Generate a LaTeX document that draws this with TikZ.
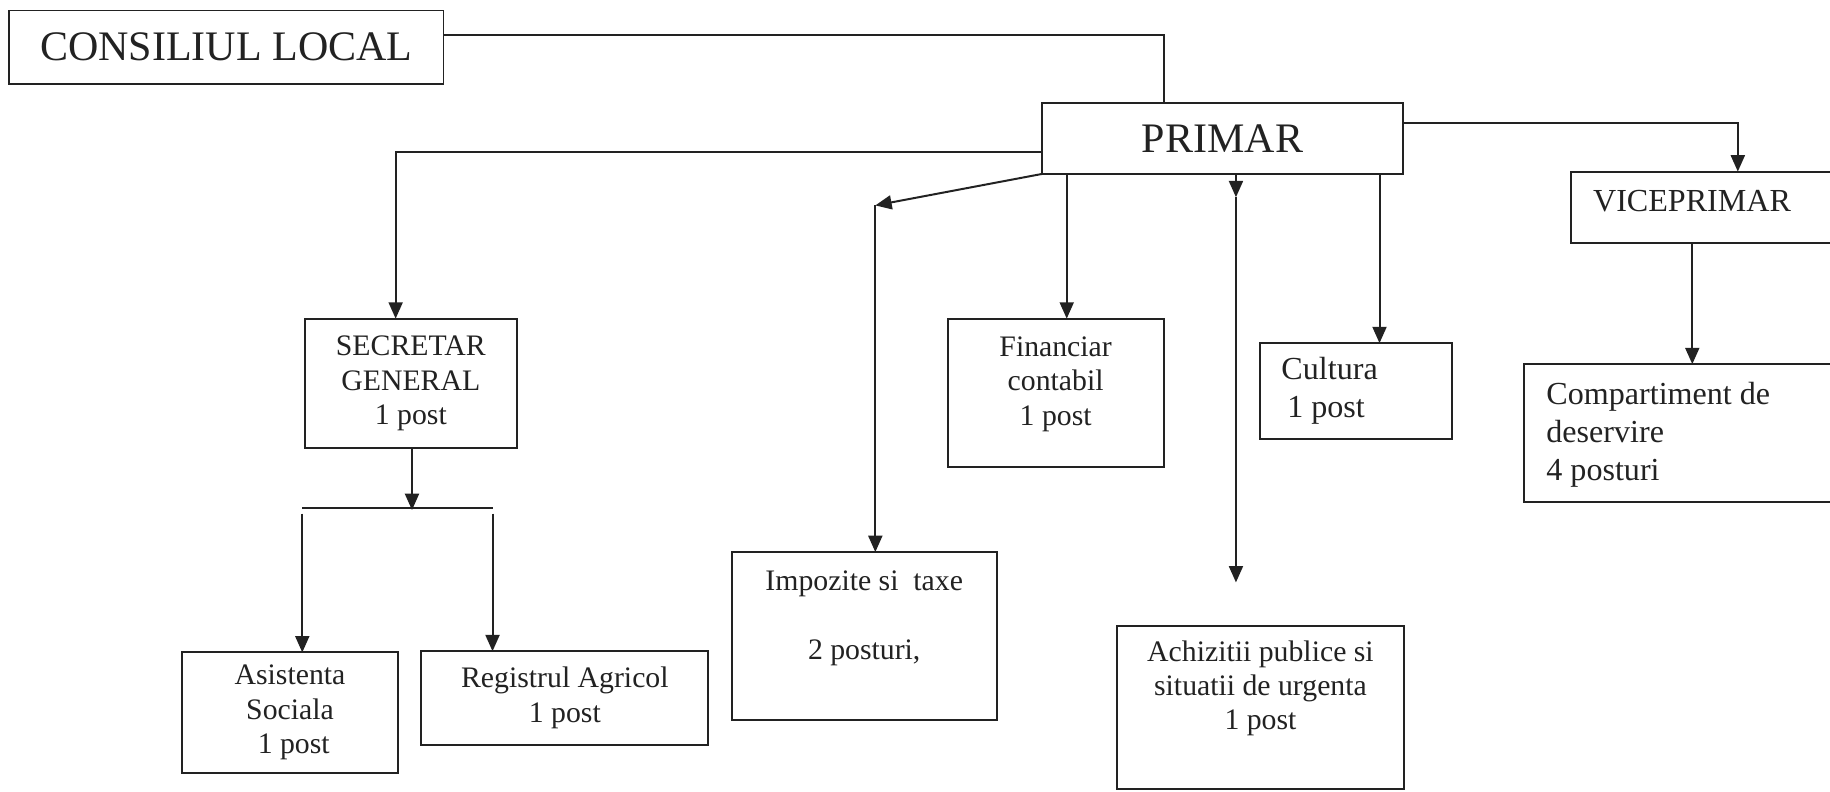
\documentclass[tikz,border=0pt]{standalone}
\usepackage{fontspec}
\setmainfont{Liberation Serif}
\usetikzlibrary{arrows.meta}
\definecolor{ink}{HTML}{222222}
\newcommand{\mycenter}[1]{\begin{tabular}{@{}c@{}}#1\end{tabular}}
\newcommand{\myleft}[2]{\begin{tabular}{@{}p{#1}@{}}#2\end{tabular}}
\begin{document}
\begin{tikzpicture}[x=1pt,y=-1pt,
  box/.style={draw=ink, line width=1.7pt, rectangle, inner sep=0pt, outer sep=0pt, anchor=north west, text=ink},
  ln/.style={draw=ink, line width=1.7pt},
  arr/.style={ln, -{Triangle[length=14pt,width=12pt]}},
  big/.style={font=\fontsize{36}{42}\selectfont},
  txt/.style={font=\fontsize{25.5}{29.5}\selectfont},
  txtr/.style={font=\fontsize{27.5}{32.5}\selectfont}]
\useasboundingbox (0,0) rectangle (1568,678);
\fill[white] (0,0) rectangle (1568,678);
\begin{scope}
\clip (0,0) rectangle (1568,678);
% boxes
\node[box,big,minimum width=372pt,minimum height=63pt] (cl) at (8,9) {CONSILIUL LOCAL};
\node[box,big,minimum width=309pt,minimum height=61pt] (pr) at (893,88) {PRIMAR};
\node[box,txtr,minimum width=244pt,minimum height=61pt] (vp) at (1346,147) {\myleft{206pt}{VICEPRIMAR\\[6pt]}};
\node[box,txtr,minimum width=284pt,minimum height=118pt] (cp) at (1306,312) {\myleft{246pt}{Compartiment de\\deservire\\4 posturi\\[-4pt]}};
\node[box,txt,minimum width=182pt,minimum height=111pt] (sg) at (261,273) {\mycenter{SECRETAR\\GENERAL\\1 post}};
\node[box,txt,minimum width=185pt,minimum height=127pt] (fc) at (812,273) {\mycenter{Financiar\\contabil\\1 post\\[15pt]}};
\node[box,txtr,minimum width=164pt,minimum height=82pt] (cu) at (1080,294) {\myleft{128pt}{Cultura\\\hspace*{5pt}1 post}};
\node[box,txt,minimum width=185pt,minimum height=103pt] (as) at (156,559) {\mycenter{Asistenta\\Sociala\\\ 1 post}};
\node[box,txt,minimum width=246pt,minimum height=80pt] (rg) at (361,558) {\mycenter{Registrul Agricol\\1 post}};
\node[box,txt,minimum width=227pt,minimum height=144pt] (imp) at (627,473) {\mycenter{Impozite si\ \ taxe\\ \\2 posturi,\\[31pt]}};
\node[box,txt,minimum width=246pt,minimum height=140pt] (ach) at (957,536) {\mycenter{Achizitii publice si\\situatii de urgenta\\1 post\\[32pt]}};
% connectors
\draw[ln] (cl.east |- 0,30) -| (pr.north -| 997,0);
\draw[arr] (pr.east |- 0,105) -| (vp.north -| 1489,0);
\draw[arr] (pr.west |- 0,130) -| (sg.north -| 339,0);
\coordinate (kink) at (750,176);
\draw[arr] (pr.south west) -- (kink);
\draw[arr] (kink) -- (imp.north -| kink);
\draw[arr] (pr.south -| 914,0) -- (fc.north -| 914,0);
\coordinate (midA) at (1059,169);
\coordinate (freeA) at (1059,499);
\draw[arr] (pr.south -| midA) -- (midA);
\draw[arr] (midA) -- (freeA);
\draw[arr] (pr.south -| 1182,0) -- (cu.north -| 1182,0);
\draw[arr] (vp.south -| 1450,0) -- (cp.north -| 1450,0);
\coordinate (barL) at (259,435);
\coordinate (barR) at (422,435);
\coordinate (barM) at (353,437);
\draw[ln] (barL) -- (barR);
\draw[arr] (sg.south -| barM) -- (barM);
\draw[arr] ([yshift=-5pt]barL) -- (as.north -| barL);
\draw[arr] ([yshift=-5pt]barR) -- (rg.north -| barR);
\end{scope}
\end{tikzpicture}
\end{document}
